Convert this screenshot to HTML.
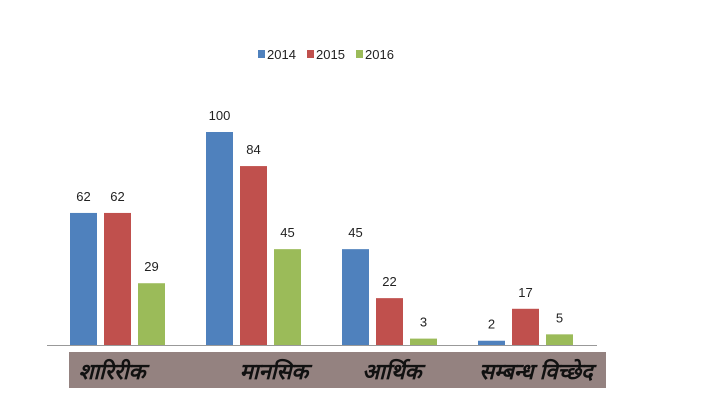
<!DOCTYPE html>
<html><head><meta charset="utf-8"><style>
body{margin:0;background:#fff;}
svg{display:block;font-family:"Liberation Sans",sans-serif;}
</style></head><body>
<svg width="705" height="410">
<g id="legend"></g>
<g id="bars"></g>
<line x1="47" y1="345.5" x2="597" y2="345.5" stroke="#999"/>
<rect x="69" y="352" width="537" height="36" fill="#948280"/>
<g id="cats"></g>
</svg>
<script>
const categories=["शारिरीक","मानसिक","आर्थिक","सम्बन्ध विच्छेद"];
const seriesNames=["2014","2015","2016"];
const s2014=[62,100,45,2];
const s2015=[62,84,22,17];
const s2016=[29,45,3,5];
const colors=["#4f81bd","#c0504d","#9bbb59"];
const series=[s2014,s2015,s2016];
const NS="http://www.w3.org/2000/svg";
const base=345, scale=2.13;
const y=v=>base-v*scale;
const gx=i=>70+i*136;
const bars=document.getElementById('bars');
series.forEach((s,k)=>s.forEach((v,i)=>{
 const r=document.createElementNS(NS,'rect');
 const x=gx(i)+k*34;
 r.setAttribute('x',x);r.setAttribute('y',y(v));r.setAttribute('width',27);r.setAttribute('height',v*scale);r.setAttribute('fill',colors[k]);
 
 
 bars.appendChild(r);
 const t=document.createElementNS(NS,'text');
 t.setAttribute('x',x+13.5);t.setAttribute('y',y(v)-12);t.setAttribute('text-anchor','middle');t.setAttribute('font-size','13');t.setAttribute('fill','#222');
 t.textContent=v;
 
 
 bars.appendChild(t);
}));
const cats=document.getElementById('cats');
const catX=[112,274,392,536];
categories.forEach((c,i)=>{
 const t=document.createElementNS(NS,'text');
 t.setAttribute('x',catX[i]);t.setAttribute('y',379);t.setAttribute('text-anchor','middle');
 t.setAttribute('font-size','22');t.setAttribute('font-weight','bold');t.setAttribute('font-style','italic');t.setAttribute('fill','#111');
 t.textContent=c;
 
 
 cats.appendChild(t);
});
const leg=document.getElementById('legend');
seriesNames.forEach((n,k)=>{
 const lx=258+k*49;
 const r=document.createElementNS(NS,'rect');
 r.setAttribute('x',lx);r.setAttribute('y',50);r.setAttribute('width',7);r.setAttribute('height',8);r.setAttribute('fill',colors[k]);
 
 
 leg.appendChild(r);
 const t=document.createElementNS(NS,'text');
 t.setAttribute('x',lx+9);t.setAttribute('y',59);t.setAttribute('font-size','13');t.setAttribute('fill','#222');
 t.textContent=n;
 
 
 leg.appendChild(t);
});
</script>
</body></html>
